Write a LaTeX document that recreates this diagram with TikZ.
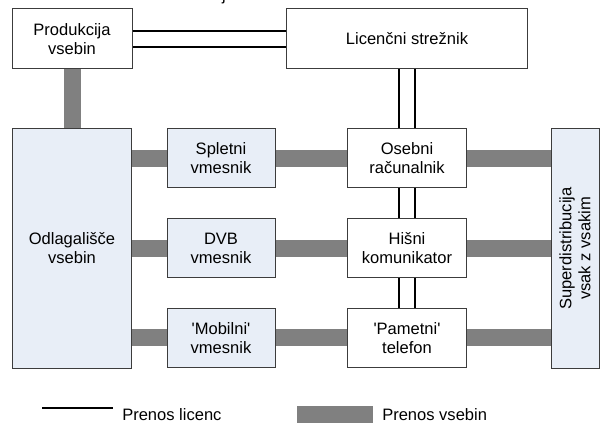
\documentclass[tikz,border=0pt]{standalone}
\usepackage{fontspec}
\setmainfont{Liberation Sans}
\definecolor{boxblue}{RGB}{232,238,247}
\definecolor{bargray}{RGB}{128,128,128}
\definecolor{edge}{RGB}{60,60,60}
\begin{document}
\begin{tikzpicture}[x=0.75pt,y=-0.75pt,
  box/.style={draw=edge,line width=0.75pt,fill=white,align=center,inner sep=0pt,
    font=\fontsize{12.4}{14.3}\selectfont},
  bluebox/.style={box,fill=boxblue},
  content/.style={draw=bargray,line width=12.75pt},
  licline/.style={draw=black,line width=1.5pt,double=white,double distance=10.5pt},
  legtext/.style={anchor=west,inner sep=0pt,font=\fontsize{12.4}{14.3}\selectfont}]
\useasboundingbox (0,0) rectangle (601,423);
\node[anchor=base,inner sep=0pt,font=\fontsize{12.4}{14.3}\selectfont] (frag) at (224,0.5) {j};
% boxes
\node[box,minimum width=90pt,minimum height=45pt] (prod) at (72,39) {Produkcija\\vsebin};
\node[box,minimum width=180.75pt,minimum height=45pt] (lic) at (407,39) {Licenčni strežnik};
\node[bluebox,minimum width=89.25pt,minimum height=180pt] (odl) at (72,248.5) {Odlagališče\\vsebin};
\node[bluebox,minimum width=81pt,minimum height=44.25pt] (spl) at (221,158.5) {Spletni\\vmesnik};
\node[bluebox,minimum width=81pt,minimum height=44.25pt] (dvb) at (221,248.5) {DVB\\vmesnik};
\node[bluebox,minimum width=81pt,minimum height=44.25pt] (mob) at (221,338) {\textquotesingle Mobilni\textquotesingle\\vmesnik};
\node[box,minimum width=89.25pt,minimum height=44.25pt] (os) at (407,158.5) {Osebni\\računalnik};
\node[box,minimum width=89.25pt,minimum height=44.25pt] (his) at (407,248.5) {Hišni\\komunikator};
\node[box,minimum width=89.25pt,minimum height=44.25pt] (pam) at (407,338) {\textquotesingle Pametni\textquotesingle\\telefon};
\node[bluebox,rotate=90,minimum width=180pt,minimum height=36pt] (sup) at (575,248.5) {Superdistribucija\\vsak z vsakim};
% content transfer
\draw[content] (prod.south) -- (prod.south |- odl.north);
\draw[content] (spl.west -| odl.east) -- (spl.west);
\draw[content] (spl.east) -- (os.west);
\draw[content] (os.east) -- (os.east -| sup.north);
\draw[content] (dvb.west -| odl.east) -- (dvb.west);
\draw[content] (dvb.east) -- (his.west);
\draw[content] (his.east) -- (his.east -| sup.north);
\draw[content] (mob.west -| odl.east) -- (mob.west);
\draw[content] (mob.east) -- (pam.west);
\draw[content] (pam.east) -- (pam.east -| sup.north);
% licence transfer
\draw[licline] (prod.east) -- (lic.west);
\draw[licline] (lic.south) -- (os.north);
\draw[licline] (os.south) -- (his.north);
\draw[licline] (his.south) -- (pam.north);
% legend
\coordinate (la) at (42,408);
\coordinate (lb) at (113,408);
\coordinate (la2) at (42,423.6);
\coordinate (lb2) at (113,423.6);
\draw[black,line width=1.5pt] (la) -- (lb);
\draw[black,line width=1.5pt] (la2) -- (lb2);
\node[legtext] (t1) at (122,415) {Prenos licenc};
\coordinate (ca) at (297,415);
\coordinate (cb) at (373,415);
\draw[content] (ca) -- (cb);
\node[legtext] (t2) at (382,415) {Prenos vsebin};
\end{tikzpicture}
\end{document}
